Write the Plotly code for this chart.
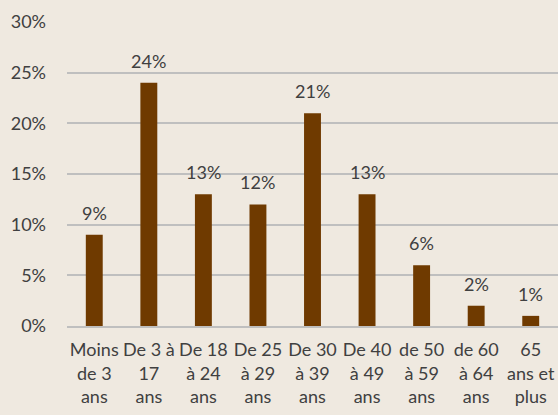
import plotly.graph_objects as go

categories = ["Moins<br>de 3<br>ans", "De 3 à<br>17<br>ans", "De 18<br>à 24<br>ans", "De 25<br>à 29<br>ans",
              "De 30<br>à 39<br>ans", "De 40<br>à 49<br>ans", "de 50<br>à 59<br>ans", "de 60<br>à 64<br>ans",
              "65<br>ans et<br>plus"]
values = [0.09, 0.24, 0.13, 0.12, 0.21, 0.13, 0.06, 0.02, 0.01]
labels = ["9%", "24%", "13%", "12%", "21%", "13%", "6%", "2%", "1%"]
tick_vals = [0, 0.05, 0.10, 0.15, 0.20, 0.25, 0.30]
tick_text = ["0%", "5%", "10%", "15%", "20%", "25%", "30%"]

bg = "#EFE9E0"
fam = "Lato, 'Open Sans', sans-serif"
font = dict(family=fam, size=18, color="#404040")

fig = go.Figure(go.Bar(
    x=categories, y=values,
    marker=dict(color="#6F3A00", line=dict(width=0)),
    width=0.31,
))

for c, v, t in zip(categories, values, labels):
    fig.add_annotation(x=c, y=v, text=t, showarrow=False, yanchor="bottom",
                       yshift=9, font=dict(family=fam, size=18, color="#404040"))

fig.update_layout(
    width=558, height=415,
    margin=dict(l=67, r=0, t=22, b=89),
    paper_bgcolor=bg, plot_bgcolor=bg,
    font=font, showlegend=False,
    bargap=0.69,
)
fig.update_yaxes(range=[0, 0.30], tickvals=tick_vals, ticktext=tick_text,
                 showgrid=True, gridcolor="#BFBFBF", gridwidth=1.5,
                 zeroline=False, showline=False, ticks="", ticklabelstandoff=20,
                 automargin=False)
fig.update_xaxes(showline=True, linecolor="#BFBFBF", linewidth=1.5, ticks="",
                 tickangle=0, showgrid=False, automargin=False, ticklabelstandoff=7)

fig.write_html("out.html", config={"displayModeBar": False},
               post_script="document.body.style.margin='0';document.body.style.overflow='hidden';")
